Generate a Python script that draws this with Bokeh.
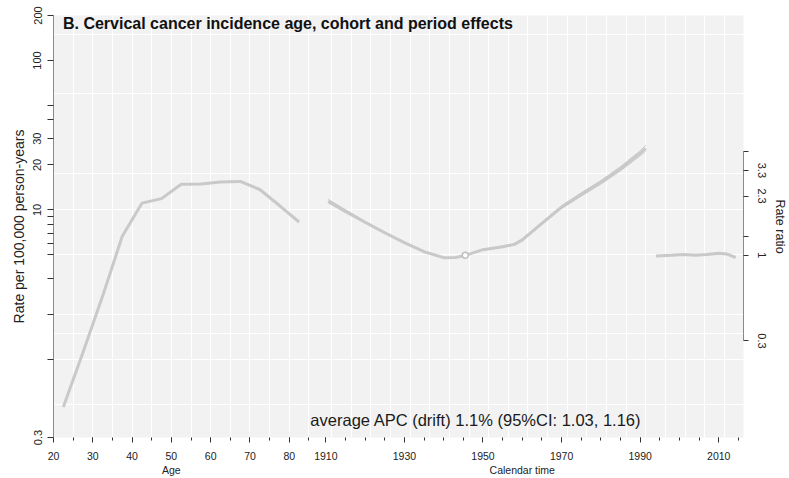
import numpy as np
from bokeh.plotting import figure
from bokeh.models import (Range1d, LogScale, LogAxis, LinearAxis, FixedTicker, Label,
                          CustomJSTickFormatter)
from bokeh.embed import file_html
from bokeh.resources import INLINE

FONT = "Liberation Sans"

# ---- Age effect: rate per 100,000 person-years at age-group midpoints ----
age_mid = [22.5, 27.5, 32.5, 37.5, 42.5, 47.5, 52.5, 57.5, 62.5, 67.5, 72.5, 77.5, 82.5]
age_rate = [0.48, 1.11, 2.65, 6.67, 11.1, 11.9, 14.85, 14.9, 15.4, 15.5, 13.7, 10.7, 8.3]

# ---- Cohort effect: rate ratio (estimate and 95% CI) ----
cohort_year = [1910.6, 1915, 1920, 1925, 1930, 1935, 1940, 1943, 1945.5, 1950,
               1955, 1958, 1960, 1965, 1970, 1975, 1980, 1985, 1990, 1991.4]
cohort_rr = [2.143, 1.858, 1.592, 1.374, 1.194, 1.052, 0.968, 0.969, 1.0, 1.083,
             1.128, 1.166, 1.243, 1.567, 1.968, 2.352, 2.79, 3.38, 4.2, 4.5]
cohort_lo = [2.09, 1.82, 1.57, 1.36, 1.185, 1.047, 0.966, 0.968, 1.0, 1.078,
             1.118, 1.152, 1.225, 1.54, 1.93, 2.3, 2.72, 3.28, 4.05, 4.32]
cohort_hi = [2.2, 1.9, 1.615, 1.39, 1.203, 1.057, 0.97, 0.97, 1.0, 1.088,
             1.138, 1.18, 1.26, 1.595, 2.01, 2.41, 2.86, 3.48, 4.35, 4.69]
cohort_ref_year = 1945.5
cohort_ref_rr = 1.0

# ---- Period effect: rate ratio ----
period_year = [1994, 1998, 2001, 2004, 2007, 2010, 2012, 2014.3]
period_rr = [0.99, 1.0, 1.01, 1.0, 1.01, 1.03, 1.02, 0.97]

# ---- Axis labels / ticks ----
age_labels = [20, 30, 40, 50, 60, 70, 80]
age_tics = [20, 25, 30, 35, 40, 45, 50, 55, 60, 65, 70, 75, 80, 85]
cal_labels = [1910, 1930, 1950, 1970, 1990, 2010]
cal_tics = list(range(1910, 2016, 5))
rate_labels = [0.3, 10, 20, 30, 100, 200]
rate_tics = [1, 2, 3.5, 5, 6, 7, 8, 9, 40, 50]
rr_labels = [0.3, 1, 2.3, 3.3]
rr_tics = [1.3, 4.3]
rate_grid = [0.5, 1, 1.5, 2, 5, 10, 17.5, 60, 150]

drift_text = "average APC (drift) 1.1% (95%CI: 1.03, 1.16)"
title_text = "B. Cervical cancer incidence age, cohort and period effects"
x_titles = ["Age", "Calendar time"]

# calendar time shares the x axis with age, shifted left by this offset
CP_OFF = 1820.7
SPLIT = 87.0


def cal(years):
    return [y - CP_OFF for y in years]


LINE = "#c9c9c9"
TXT = "#222222"

p = figure(width=789, height=478, output_backend="svg", toolbar_location=None,
           y_axis_type="log", x_range=Range1d(20, 195.6), y_range=Range1d(0.3, 200),
           min_border_left=53, min_border_right=44, min_border_top=15,
           min_border_bottom=41)
p.background_fill_color = "#f2f2f2"
p.border_fill_color = "white"
p.outline_line_color = None

p.extra_y_ranges = {"rr": Range1d(0.0772, 29.13)}
p.extra_y_scales = {"rr": LogScale()}

# grid
p.xgrid[0].ticker = FixedTicker(ticks=age_tics[1:] + cal([t + 1.45 for t in cal_tics]))
p.ygrid[0].ticker = FixedTicker(ticks=rate_grid)
for g in (p.xgrid[0], p.ygrid[0]):
    g.grid_line_color = "white"
    g.grid_line_width = 1

# bottom axis: age and calendar time
xa = p.xaxis[0]
xa.ticker = FixedTicker(ticks=age_labels + cal(cal_labels),
                        minor_ticks=age_tics + cal(cal_tics))
xa.formatter = CustomJSTickFormatter(args=dict(off=CP_OFF, split=SPLIT),
                                     code="return tick > split ? (tick + off).toFixed(0) : tick.toFixed(0);")
xa.axis_line_color = None
xa.major_tick_out = 5
xa.major_tick_in = 0
xa.minor_tick_out = 3
xa.minor_tick_in = 0
xa.major_tick_line_color = "#333333"
xa.minor_tick_line_color = "#333333"
xa.major_label_text_font = FONT
xa.major_label_text_font_size = "10.5px"
xa.major_label_text_color = TXT
xa.major_label_standoff = 9

# second row under the bottom axis carries the two axis titles
xt = LinearAxis(ticker=FixedTicker(ticks=[50, 1960 - CP_OFF], minor_ticks=[]),
                formatter=CustomJSTickFormatter(args=dict(split=SPLIT, names=x_titles),
                                                code="return tick > split ? names[1] : names[0];"))
xt.axis_line_color = None
xt.major_tick_line_color = None
xt.minor_tick_line_color = None
xt.major_tick_out = 0
xt.major_tick_in = 0
xt.major_label_standoff = 1
xt.major_label_text_font = FONT
xt.major_label_text_font_size = "10.5px"
xt.major_label_text_color = TXT
p.add_layout(xt, "below")

# left axis: rate
ya = p.yaxis[0]
ya.ticker = FixedTicker(ticks=rate_labels, minor_ticks=rate_tics)
ya.formatter = CustomJSTickFormatter(code="return String(tick);")
ya.axis_line_color = "#8a8a8a"
ya.major_tick_out = 6
ya.major_tick_in = 0
ya.minor_tick_out = 6
ya.minor_tick_in = 0
ya.major_tick_line_color = "#333333"
ya.minor_tick_line_color = "#333333"
ya.major_label_orientation = "vertical"
ya.major_label_text_font = FONT
ya.major_label_text_font_size = "11px"
ya.major_label_text_color = TXT
ya.major_label_standoff = 6
ya.axis_label = "Rate per 100,000 person-years"
ya.axis_label_text_font = FONT
ya.axis_label_text_font_style = "normal"
ya.axis_label_text_font_size = "14px"
ya.axis_label_text_color = TXT
ya.axis_label_standoff = 4

# right axis: rate ratio
ra = LogAxis(y_range_name="rr",
             ticker=FixedTicker(ticks=rr_labels, minor_ticks=rr_tics),
             formatter=CustomJSTickFormatter(code="return String(tick);"),
             bounds=(min(rr_labels), max(rr_tics)))
ra.axis_line_color = "#8a8a8a"
ra.major_tick_out = 5
ra.major_tick_in = 0
ra.minor_tick_out = 5
ra.minor_tick_in = 0
ra.major_tick_line_color = "#333333"
ra.minor_tick_line_color = "#333333"
ra.major_label_orientation = "vertical"
ra.major_label_text_font = FONT
ra.major_label_text_font_size = "11px"
ra.major_label_text_color = TXT
ra.major_label_standoff = 9
ra.axis_label = "Rate ratio"
ra.axis_label_orientation = "vertical"
ra.axis_label_text_font = FONT
ra.axis_label_text_font_style = "normal"
ra.axis_label_text_font_size = "12.5px"
ra.axis_label_text_color = TXT
ra.axis_label_standoff = 4
p.add_layout(ra, "right")

# age curve
p.line(age_mid, age_rate, line_color=LINE, line_width=3)

# cohort curve with confidence limits
cx = cal(cohort_year)
p.line(cx, cohort_lo, line_color=LINE, line_width=1, y_range_name="rr")
p.line(cx, cohort_hi, line_color=LINE, line_width=1, y_range_name="rr")
p.line(cx, cohort_rr, line_color=LINE, line_width=3, y_range_name="rr")
p.scatter(cal([cohort_ref_year]), [cohort_ref_rr], size=6, marker="circle",
          fill_color="white", line_color="#bdbdbd", line_width=1.5, y_range_name="rr")

# period curve
p.line(cal(period_year), period_rr, line_color=LINE, line_width=3, y_range_name="rr")

# texts inside the panel
p.add_layout(Label(x=22.4, y=176, text=title_text, text_font=FONT,
                   text_font_style="bold", text_font_size="16px",
                   text_baseline="middle", text_color="#111111"))
p.add_layout(Label(x=127.5, y=0.39, text=drift_text, text_font=FONT,
                   text_font_size="16.5px", text_align="center",
                   text_baseline="middle", text_color="#1a1a1a"))

open("out.html", "w").write(file_html(p, INLINE))
